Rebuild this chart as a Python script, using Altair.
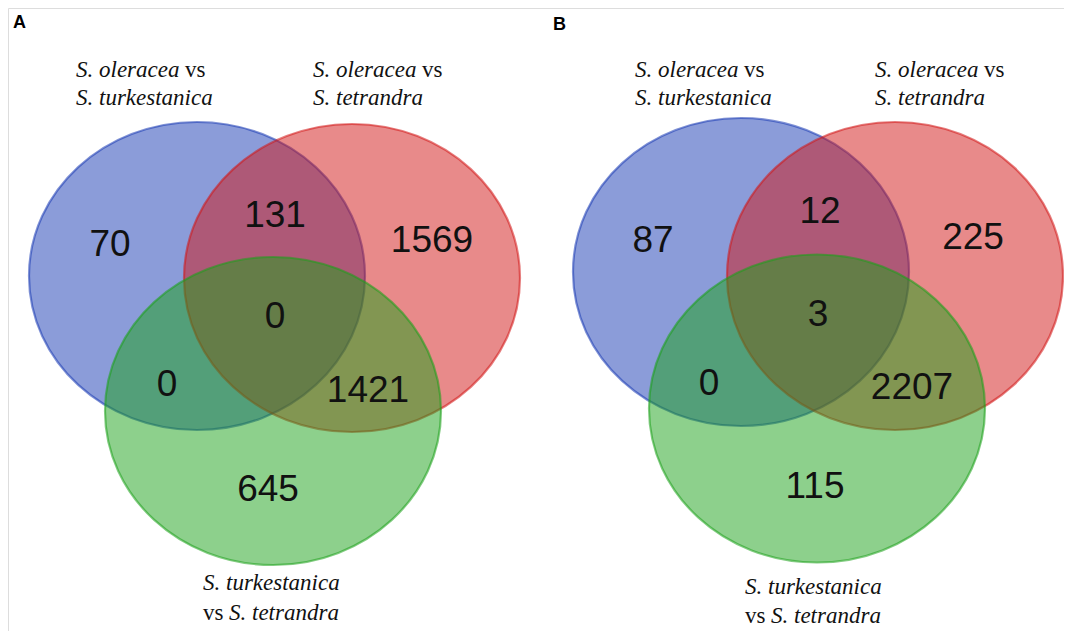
import altair as alt
import pandas as pd

# ---------------- data ----------------
regions = ["only_1", "1_and_2", "only_2", "all_three", "1_and_3", "2_and_3", "only_3"]
counts_a = [70, 131, 1569, 0, 0, 1421, 645]
counts_b = [87, 12, 225, 3, 0, 2207, 115]
panel_letters = ["A", "B"]
set_names = ["S. oleracea vs S. turkestanica", "S. oleracea vs S. tetrandra",
             "S. turkestanica vs S. tetrandra"]

# ---------------- layout (pixel-like coordinates) ----------------
W, H = 1056, 623
OX, OY = 8, 8  # page margin so coordinates match the picture

# ellipse centers per panel (blue, red, green)
circ_cx = {"A": [197, 352, 273], "B": [741, 895, 817]}
circ_cy = {"A": [276, 278, 411], "B": [272, 276, 408.5]}
circ_col = ["#1739b3", "#d11515", "#1ba119"]
RX, RY = 168, 154
ell_path = "M -1 0 A 1 {r} 0 1 0 1 0 A 1 {r} 0 1 0 -1 0 Z".format(r=round(RY / RX, 4))
ell_size = (2 * RX) ** 2

num_x = {"A": [110, 275, 432, 275, 167, 368, 268], "B": [653, 820, 973, 818, 709, 912, 815]}
num_y = {"A": [256, 227, 252, 328, 396, 402, 501], "B": [252, 223, 249, 326, 395, 399, 498]}

rows_c = []
for p in panel_letters:
    for i in range(3):
        rows_c.append({"cx": circ_cx[p][i], "cy": circ_cy[p][i], "col": circ_col[i],
                       "order": len(rows_c)})
df_c = pd.DataFrame(rows_c)

rows_n = []
for p, counts in zip(panel_letters, [counts_a, counts_b]):
    for i, r in enumerate(regions):
        rows_n.append({"x": num_x[p][i], "y": num_y[p][i], "t": str(counts[i])})
df_n = pd.DataFrame(rows_n)

# set labels: top labels (italic species + roman "vs"), bottom labels
top_x = {"A": [76, 313], "B": [635, 875]}
bot_x = {"A": 203, "B": 745}
bot_y = {"A": [590, 620], "B": [594, 623]}
ital_rows, rom_rows = [], []
for p in panel_letters:
    for k, x0 in enumerate(top_x[p]):
        ital_rows.append((x0, 77, "S. oleracea"))
        rom_rows.append((x0 + 109, 77, "vs"))
        ital_rows.append((x0, 105, "S. turkestanica" if k == 0 else "S. tetrandra"))
    ital_rows.append((bot_x[p], bot_y[p][0], "S. turkestanica"))
    rom_rows.append((bot_x[p], bot_y[p][1], "vs"))
    ital_rows.append((bot_x[p] + 26, bot_y[p][1], "S. tetrandra"))
df_i = pd.DataFrame(ital_rows, columns=["x", "y", "t"])
df_r = pd.DataFrame(rom_rows, columns=["x", "y", "t"])
df_p = pd.DataFrame({"x": [13, 553], "y": [28, 30], "t": panel_letters})

xs = alt.Scale(domain=[OX, OX + W], nice=False, zero=False)
ys = alt.Scale(domain=[OY, OY + H], nice=False, zero=False, reverse=True)

SERIF = "'Liberation Serif', 'Times New Roman', Times, serif"

def X(f):
    return alt.X(f, scale=xs, axis=None)

def Y(f):
    return alt.Y(f, scale=ys, axis=None)

ellipses = alt.Chart(df_c).mark_point(
    shape=ell_path, size=ell_size, filled=True, opacity=1,
    fillOpacity=0.5, strokeOpacity=0.55, strokeWidth=2.2
).encode(
    x=X("cx:Q"), y=Y("cy:Q"),
    fill=alt.Fill("col:N", scale=None),
    stroke=alt.Stroke("col:N", scale=None),
    order=alt.Order("order:Q"),
)

numbers = alt.Chart(df_n).mark_text(
    font="Liberation Sans", fontSize=37, align="center", baseline="alphabetic", color="#111111"
).encode(x=X("x:Q"), y=Y("y:Q"), text="t:N")

italics = alt.Chart(df_i).mark_text(
    font=SERIF, fontSize=23, fontStyle="italic", align="left",
    baseline="alphabetic", color="#111111"
).encode(x=X("x:Q"), y=Y("y:Q"), text="t:N")

romans = alt.Chart(df_r).mark_text(
    font=SERIF, fontSize=23, align="left", baseline="alphabetic", color="#111111"
).encode(x=X("x:Q"), y=Y("y:Q"), text="t:N")

letters = alt.Chart(df_p).mark_text(
    font="Liberation Sans", fontSize=18, fontWeight="bold", align="left",
    baseline="alphabetic", color="#000000"
).encode(x=X("x:Q"), y=Y("y:Q"), text="t:N")

chart = alt.layer(ellipses, numbers, italics, romans, letters).properties(
    width=W, height=H, autosize=alt.AutoSizeParams(type="none"), padding=0
).configure_view(strokeWidth=0, stroke="transparent").configure(background="white")

chart.save("out.html", embed_options={"renderer": "svg", "actions": False})
